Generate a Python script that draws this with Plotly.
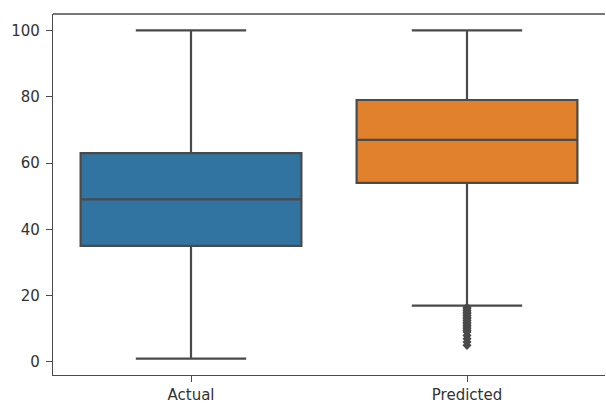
import plotly.graph_objects as go

# Summary statistics per group
categories = ["Actual", "Predicted"]
q1_vals = [35, 54]
median_vals = [49, 67]
q3_vals = [63, 79]
lower_whisker = [1, 17]
upper_whisker = [100, 100]
box_colors = ["#3274a1", "#e1812c"]

# Points beyond the lower whisker of the Predicted group
outlier_values = [16.5, 16, 15.5, 15, 14.5, 14, 13.5, 13, 12.5, 12, 11.5, 11,
                  10.5, 10, 9.5, 9, 8, 7, 6, 5]

EDGE = "#4a4a4a"
TEXT = "#333333"

fig = go.Figure()
for i, cat in enumerate(categories):
    fig.add_trace(go.Box(
        x=[i],
        q1=[q1_vals[i]],
        median=[median_vals[i]],
        q3=[q3_vals[i]],
        lowerfence=[lower_whisker[i]],
        upperfence=[upper_whisker[i]],
        fillcolor=box_colors[i],
        line=dict(color=EDGE, width=2.2),
        width=0.8,
        whiskerwidth=0.5,
        boxpoints=False,
        showlegend=False,
        hoverinfo="skip",
    ))

fig.add_trace(go.Scatter(
    x=[1] * len(outlier_values),
    y=outlier_values,
    mode="markers",
    marker=dict(symbol="diamond", size=7, color=EDGE, line=dict(width=0)),
    showlegend=False,
    hoverinfo="skip",
))

# Top border of the axes frame (right side is left open at the page edge)
fig.add_shape(type="line", xref="paper", yref="paper", x0=0, x1=1, y0=1, y1=1,
              line=dict(color=EDGE, width=1.3))

fig.update_layout(
    width=606,
    height=403,
    autosize=False,
    margin=dict(l=53, r=1, t=14, b=28, pad=0, autoexpand=False),
    paper_bgcolor="white",
    plot_bgcolor="white",
    font=dict(family="DejaVu Sans", size=15, color=TEXT),
)

fig.update_xaxes(
    range=[-0.5, 1.5],
    tickmode="array",
    tickvals=list(range(len(categories))),
    ticktext=categories,
    showgrid=False,
    zeroline=False,
    showline=True,
    linecolor=EDGE,
    linewidth=1.3,
    ticks="outside",
    ticklen=6,
    tickcolor=EDGE,
    tickwidth=1.3,
    automargin=False,
)

fig.update_yaxes(
    range=[-3.95, 104.95],
    tickmode="array",
    tickvals=[0, 20, 40, 60, 80, 100],
    showgrid=False,
    zeroline=False,
    showline=True,
    mirror=False,
    linecolor=EDGE,
    linewidth=1.3,
    ticks="outside",
    ticklen=6,
    tickcolor=EDGE,
    tickwidth=1.3,
    ticklabelstandoff=3,
    automargin=False,
)

fig.write_html("out.html", config={"displayModeBar": False})
